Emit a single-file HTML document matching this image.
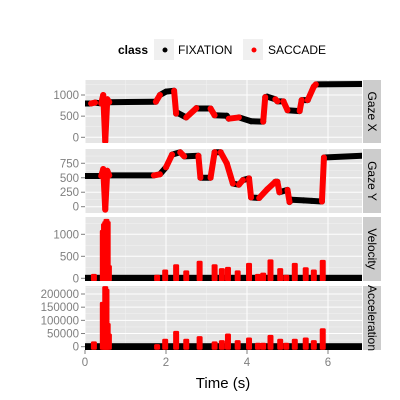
<!DOCTYPE html>
<html><head><meta charset="utf-8"><style>
body{margin:0;background:#fff;}
svg{display:block;font-family:"Liberation Sans",sans-serif;}
</style></head><body>
<svg id="chart" width="400" height="400">
<text x="148" y="54" text-anchor="end" font-size="12" font-weight="bold">class</text>
<rect x="154" y="39" width="20" height="21" fill="#f0f0f0"/>
<circle cx="165" cy="50" r="2.5" fill="#000"/>
<text x="178" y="54" font-size="12">FIXATION</text>
<rect x="243" y="39" width="20" height="21" fill="#f0f0f0"/>
<circle cx="254" cy="50" r="2.5" fill="#f00"/>
<text x="268" y="54" font-size="12">SACCADE</text>
<text x="223" y="388" text-anchor="middle" font-size="15">Time (s)</text>
</svg>
<script>
// Gaze X: times, values, class of segment starting at point (F/S)
const gxT=[0,0.15,0.25,0.4,0.45,0.5,0.55,0.6,1.75,1.85,2.0,2.2,2.25,2.3,2.5,2.75,2.8,3.1,3.2,3.5,3.55,3.8,4.1,4.4,4.45,4.5,4.7,4.75,4.9,5.0,5.3,5.35,5.5,5.65,5.7,6.84];
const gxV=[800,800,820,800,1000,-100,900,830,840,1000,1080,1100,560,570,470,690,680,680,520,510,440,470,380,370,950,960,900,850,850,640,620,880,880,1200,1250,1260];
const gxC=['F','S','F','S','S','S','S','F','S','F','F','S','F','F','S','F','F','S','F','F','S','F','F','S','F','F','S','F','S','F','S','F','S','S','F','F'];
// Gaze Y
const gyT=[0,0.4,0.45,0.5,0.55,0.6,1.7,1.85,2.0,2.15,2.35,2.45,2.8,2.85,3.1,3.2,3.35,3.5,3.65,3.8,3.9,4.05,4.1,4.3,4.5,4.7,4.75,4.8,5.0,5.05,5.1,5.4,5.6,5.85,5.9,6.84];
const gyV=[530,530,650,-50,620,540,540,560,680,900,940,870,880,500,500,940,940,750,400,380,460,490,160,150,300,430,430,250,290,80,120,110,100,90,850,880];
const gyC=['F','S','S','S','S','F','S','F','S','F','S','F','S','F','S','F','S','S','F','S','F','S','F','S','S','F','S','F','S','F','F','F','F','S','F','F'];
// Saccade spikes (velocity & acceleration peaks)
const spikeT=[0.22,0.44,0.47,0.5,0.53,0.56,0.59,1.78,1.98,2.25,2.5,2.83,3.2,3.38,3.53,3.77,4.05,4.27,4.4,4.58,4.82,4.97,5.18,5.45,5.65,5.87];
const velPeak=[100,1100,1250,1300,1350,1300,300,80,200,320,180,400,320,230,260,180,350,100,130,430,230,80,350,250,200,420];
const accPeak=[20000,170000,160000,230000,220000,90000,50000,10000,30000,60000,30000,40000,20000,25000,50000,25000,35000,15000,15000,45000,30000,15000,30000,35000,25000,70000];
const xTicks=[0,2,4,6];
const panels=[
 {name:'Gaze X',top:80,bot:143,y0:137.3,k:0.0423,ticks:[0,500,1000],minor:[250,750,1250],key:'gaze-x'},
 {name:'Gaze Y',top:149,bot:213,y0:206.7,k:0.0579,ticks:[0,250,500,750],minor:[125,375,625,875],key:'gaze-y'},
 {name:'Velocity',top:217,bot:281,y0:278.3,k:0.044,ticks:[0,500,1000],minor:[250,750,1250],key:'velocity'},
 {name:'Acceleration',top:286,bot:350,y0:346.7,k:0.0002635,ticks:[0,50000,100000,150000,200000],minor:[25000,75000,125000,175000,225000],key:'acceleration'}
];
const NS='http://www.w3.org/2000/svg';
const svg=document.getElementById('chart');
const X0=85,X1=362,PX=40.5;
function xs(t){return X0+t*PX;}
function mk(tag,attrs,parent){const e=document.createElementNS(NS,tag);for(const a in attrs)e.setAttribute(a,attrs[a]);(parent||svg).appendChild(e);return e;}
panels.forEach(p=>{p.ys=v=>p.y0-v*p.k;});
panels.forEach((p,pi)=>{
 const g=mk('g',{});
 
 
 const clipId='clip'+pi;
 const cp=mk('clipPath',{id:clipId},g);mk('rect',{x:X0,y:p.top,width:X1-X0,height:p.bot-p.top},cp);
 const bg=mk('rect',{x:X0,y:p.top,width:X1-X0,height:p.bot-p.top,fill:'#e5e5e5'},g);
 
 
 [1,3,5].forEach(t=>mk('line',{x1:xs(t),x2:xs(t),y1:p.top,y2:p.bot,stroke:'#f2f2f2','stroke-width':0.5},g));
 p.minor.forEach(v=>{const y=p.ys(v);if(y>p.top&&y<p.bot)mk('line',{x1:X0,x2:X1,y1:y,y2:y,stroke:'#f2f2f2','stroke-width':0.5},g);});
 xTicks.forEach(t=>mk('line',{x1:xs(t),x2:xs(t),y1:p.top,y2:p.bot,stroke:'#fff','stroke-width':1},g));
 p.ticks.forEach(v=>{const y=p.ys(v);
  mk('line',{x1:X0,x2:X1,y1:y,y2:y,stroke:'#fff','stroke-width':1},g);
  mk('line',{x1:X0-4,x2:X0,y1:y,y2:y,stroke:'#7f7f7f','stroke-width':1},g);
  const tx=mk('text',{x:X0-6,y:y+4,'text-anchor':'end','font-size':11.5,fill:'#7f7f7f'},g);tx.textContent=v;
  
  
 });
 const marks=mk('g',{'clip-path':'url(#'+clipId+')'},g);
 
 
 if(pi<2){
  const T=pi==0?gxT:gyT,V=pi==0?gxV:gyV,C=pi==0?gxC:gyC;
  ['F','S'].forEach(cls=>{
   for(let i=0;i<T.length-1;i++){ if(C[i]!==cls)continue;
    const l=mk('line',{x1:xs(T[i]),y1:p.ys(V[i]),x2:xs(T[i+1]),y2:p.ys(V[i+1]),stroke:cls=='F'?'#000':'#f00','stroke-width':6,'stroke-linecap':'round'},marks);
    
    
   }
  });
 } else {
  const P=pi==2?velPeak:accPeak;
  const bl=mk('rect',{x:X0,y:p.ys(0)-3.5,width:X1-X0,height:7,fill:'#000'},marks);
  
  
  spikeT.forEach((t,i)=>{
   const y=p.ys(P[i]);
   const r=mk('rect',{x:xs(t)-3,y:y,width:6,height:p.ys(0)+3-y,fill:'#f00',rx:1.5},marks);
   
   
  });
 }
 const st=mk('rect',{x:X1+1,y:p.top,width:18,height:p.bot-p.top,fill:'#cccccc'},g);
 
 
 const cy=(p.top+p.bot)/2;
 const sl=mk('text',{x:X1+10,y:cy,'text-anchor':'middle','font-size':12,transform:'rotate(90 '+(X1+10)+' '+cy+')',dy:'4'},g);
 sl.textContent=p.name;
 
 
});
xTicks.forEach(t=>{
 mk('line',{x1:xs(t),x2:xs(t),y1:350,y2:354,stroke:'#7f7f7f','stroke-width':1});
 const tx=mk('text',{x:xs(t),y:366,'text-anchor':'middle','font-size':11.5,fill:'#7f7f7f'});tx.textContent=t;
 
 
});
</script>
</body></html>
